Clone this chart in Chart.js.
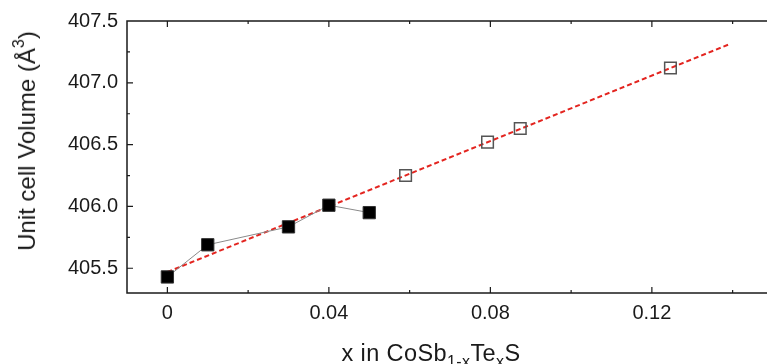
<!DOCTYPE html>
<html>
<head>
<meta charset="utf-8">
<script src="https://cdn.jsdelivr.net/npm/chart.js@4"></script>
<style>
  html, body { margin: 0; padding: 0; background: #fff; overflow: hidden; }
  #wrap { position: relative; width: 790px; height: 364px; }
  .title { position: absolute; font-family: 'Liberation Sans', Arial, sans-serif; color: #1a1a1a; white-space: nowrap; line-height: 1; }
  #ytitle { left: 27px; top: 141px; font-size: 24px; transform: translate(-50%, -50%) rotate(-90deg); }
  #xtitle { left: 431px; top: 342px; font-size: 23.5px; letter-spacing: 0.4px; transform: translateX(-50%); }
  .title sub, .title sup { font-size: 16px; line-height: 0; }
  .title sub { vertical-align: -6px; }
  .title sup { vertical-align: 11px; }
</style>
</head>
<body>
<div id="wrap">
  <canvas id="chart" width="790" height="364"></canvas>
  <div class="title" id="ytitle">Unit cell Volume (Å<sup>3</sup>)</div>
  <div class="title" id="xtitle">x in CoSb<sub>1-x</sub>Te<sub>x</sub>S</div>
</div>
<script>
// measured samples (filled) and extended series (open)
const xFilled = [0, 0.01, 0.03, 0.04, 0.05];
const vFilled = [405.43, 405.69, 405.835, 406.01, 405.95];
const xOpen = [0.059, 0.0793, 0.0874, 0.1246];
const vOpen = [406.25, 406.52, 406.63, 407.12];
// linear fit end points
const xFit = [0, 0.139];
const vFit = [405.47, 407.31];

// tick positions (major ones get a label)
const xTicks = [0, 0.02, 0.04, 0.06, 0.08, 0.10, 0.12, 0.14];
const xLabels = ['0', '', '0.04', '', '0.08', '', '0.12', ''];
const yTicks = [405.5, 405.75, 406.0, 406.25, 406.5, 406.75, 407.0, 407.25, 407.5];
const yLabels = ['405.5', '', '406.0', '', '406.5', '', '407.0', '', '407.5'];

const AXIS = '#1a1a1a';
Chart.defaults.font.family = "'Liberation Sans', Arial, sans-serif";
Chart.defaults.color = AXIS;

function pairs(xs, ys) {
  return xs.map((x, i) => ({ x: x, y: ys[i] }));
}

// frame on all four sides with inward ticks (Origin style)
const framePlugin = {
  id: 'frame',
  afterDatasetsDraw(chart) {
    const { ctx, chartArea: a, scales } = chart;
    ctx.save();
    ctx.strokeStyle = AXIS;
    ctx.lineWidth = 1.5;
    ctx.strokeRect(a.left, a.top, a.right - a.left, a.bottom - a.top);
    ctx.lineWidth = 1.2;
    ctx.beginPath();
    xTicks.forEach((v, i) => {
      if (v <= scales.x.min || v >= scales.x.max) return;
      const px = scales.x.getPixelForValue(v);
      const len = xLabels[i] ? 6 : 3;
      ctx.moveTo(px, a.bottom); ctx.lineTo(px, a.bottom - len);
      ctx.moveTo(px, a.top); ctx.lineTo(px, a.top + len);
    });
    yTicks.forEach((v, i) => {
      if (v <= scales.y.min || v >= scales.y.max) return;
      const py = scales.y.getPixelForValue(v);
      const len = yLabels[i] ? 6 : 3;
      ctx.moveTo(a.left, py); ctx.lineTo(a.left + len, py);
      ctx.moveTo(a.right, py); ctx.lineTo(a.right - len, py);
    });
    ctx.stroke();
    ctx.restore();
  }
};

new Chart(document.getElementById('chart'), {
  type: 'scatter',
  data: {
    datasets: [
      {
        label: 'fit',
        data: pairs(xFit, vFit),
        showLine: true,
        borderColor: '#e3241f',
        borderWidth: 2,
        borderDash: [5, 3],
        pointRadius: 0,
        order: 3
      },
      {
        label: 'open',
        data: pairs(xOpen, vOpen),
        showLine: false,
        pointStyle: 'rect',
        pointRadius: 8.2,
        pointBackgroundColor: 'rgba(0,0,0,0)',
        pointBorderColor: '#555',
        pointBorderWidth: 1.5,
        order: 2
      },
      {
        label: 'filled',
        data: pairs(xFilled, vFilled),
        showLine: true,
        borderColor: '#8a8a8a',
        borderWidth: 1,
        pointStyle: 'rect',
        pointRadius: 8.7,
        pointBackgroundColor: '#000',
        pointBorderColor: '#333',
        pointBorderWidth: 1,
        order: 1
      }
    ]
  },
  options: {
    responsive: false,
    animation: false,
    layout: { padding: { top: 21, right: 17, left: 0, bottom: 0 } },
    plugins: { legend: { display: false }, tooltip: { enabled: false } },
    scales: {
      x: {
        type: 'linear',
        min: -0.01,
        max: 0.15,
        grid: { display: false, drawTicks: false },
        border: { display: false },
        afterFit: s => { s.height = 71; },
        afterBuildTicks: s => { s.ticks = xTicks.map(v => ({ value: v })); },
        ticks: {
          padding: 8,
          maxRotation: 0,
          autoSkip: false,
          font: { size: 20 },
          color: AXIS,
          callback: (v, i) => xLabels[i]
        }
      },
      y: {
        type: 'linear',
        min: 405.3,
        max: 407.5,
        grid: { display: false, drawTicks: false },
        border: { display: false },
        afterFit: s => { s.width = 127; },
        afterBuildTicks: s => { s.ticks = yTicks.map(v => ({ value: v })); },
        ticks: {
          padding: 9,
          autoSkip: false,
          font: { size: 20 },
          color: AXIS,
          callback: (v, i) => yLabels[i]
        }
      }
    }
  },
  plugins: [framePlugin]
});
</script>
</body>
</html>
